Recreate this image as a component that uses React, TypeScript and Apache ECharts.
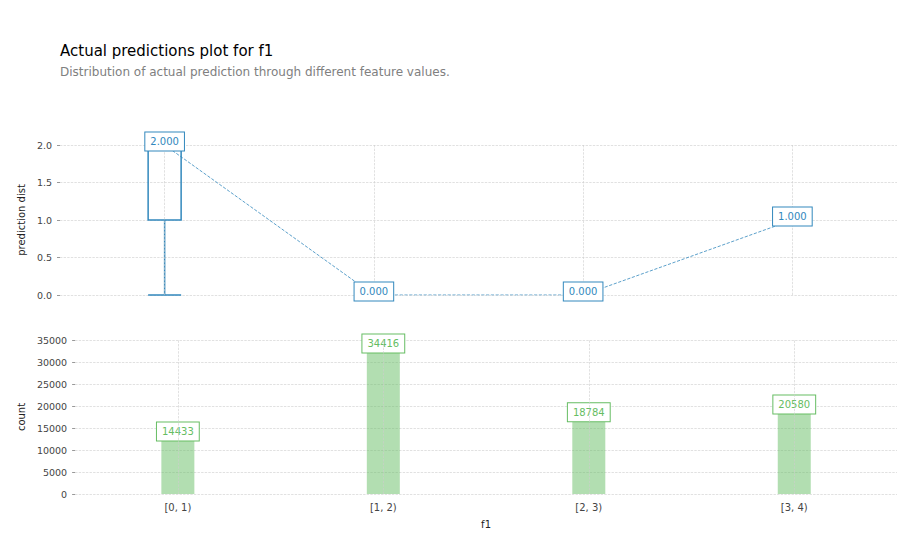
import React, { useEffect, useRef } from 'react';
import * as echarts from 'echarts';

const categories = ['[0, 1)', '[1, 2)', '[2, 3)', '[3, 4)'];
const meanPred = [2.0, 0.0, 0.0, 1.0];
// [min, Q1, median, Q3, max]; only the first bin has spread
const boxData: any[] = [[0, 1, 2, 2, 2], '-', '-', '-'];
const counts = [14433, 34416, 18784, 20580];

const BLUE = '#3288bd';
const GREEN = '#66bd63';

const App: React.FC = () => {
	const ref = useRef<HTMLDivElement | null>(null);

	useEffect(() => {
		if (!ref.current) return;
		const chart = echarts.init(ref.current, null, { renderer: 'svg' });
		const gridLine = { color: '#cccccc', type: 'dashed', width: 0.6 };
		const vLines = {
			silent: true,
			symbol: 'none',
			label: { show: false },
			lineStyle: gridLine,
			data: categories.map((c) => ({ xAxis: c })),
		};
		const xBase = {
			type: 'category',
			data: categories,
			axisLine: { show: false },
			axisTick: { show: false },
			splitLine: { show: false },
		};
		const yBase = {
			type: 'value',
			axisLine: { show: false },
			axisTick: { show: true, length: 3, lineStyle: { color: '#999' } },
			axisLabel: { color: '#444', fontSize: 9.5, fontFamily: 'DejaVu Sans', formatter: (v: number) => String(v) },
			splitLine: { show: true, lineStyle: gridLine },
			nameLocation: 'middle',
			nameTextStyle: { color: '#222', fontSize: 10, fontFamily: 'DejaVu Sans' },
		};
		const boxLabel = (color: string) => ({
			show: true,
			color,
			fontSize: 10,
			fontFamily: 'DejaVu Sans',
			backgroundColor: '#fff',
			borderColor: color,
			borderWidth: 1,
			padding: [4, 5],
		});
		const option: any = {
			animation: false,
			title: [
				{
					text: 'Actual predictions plot for f1',
					subtext: 'Distribution of actual prediction through different feature values.',
					left: 47,
					top: 30,
					textStyle: { fontSize: 15, fontWeight: 'normal', color: '#000', fontFamily: 'DejaVu Sans' },
					subtextStyle: { fontSize: 12, color: '#808080', fontFamily: 'DejaVu Sans' },
					itemGap: 8,
				},
			],
			grid: [
				{ left: 52, right: 6, top: 137, height: 150 },
				{ left: 52, right: 6, top: 332, height: 160 },
			],
			xAxis: [
				{ ...xBase, gridIndex: 0, axisLabel: { show: false } },
				{
					...xBase,
					gridIndex: 1,
					axisLabel: { color: '#444', fontSize: 10, fontFamily: 'DejaVu Sans', margin: 8 },
					name: 'f1',
					nameLocation: 'middle',
					nameGap: 25,
					nameTextStyle: { color: '#222', fontSize: 10, fontFamily: 'DejaVu Sans' },
				},
			],
			yAxis: [
				{ ...yBase, gridIndex: 0, min: 0, max: 2, interval: 0.5, name: 'prediction dist', nameGap: 29,
					axisLabel: { ...yBase.axisLabel, formatter: (v: number) => v.toFixed(1) } },
				{ ...yBase, gridIndex: 1, min: 0, max: 35000, interval: 5000, name: 'count', nameGap: 45 },
			],
			series: [
				{
					type: 'boxplot',
					xAxisIndex: 0,
					yAxisIndex: 0,
					data: boxData,
					boxWidth: [33, 33],
					itemStyle: { color: 'transparent', borderColor: BLUE, borderWidth: 1.5 },
					markLine: vLines,
					z: 2,
				},
				{
					type: 'line',
					xAxisIndex: 0,
					yAxisIndex: 0,
					data: meanPred,
					symbol: 'circle',
					symbolSize: 1,
					showSymbol: true,
					itemStyle: { color: BLUE },
					lineStyle: { color: BLUE, width: 0.8, type: 'dashed' },
					label: {
						...boxLabel(BLUE),
						position: 'bottom',
						distance: -13,
						formatter: (p: any) => p.value.toFixed(3),
					},
					z: 5,
				},
				{
					type: 'bar',
					xAxisIndex: 1,
					yAxisIndex: 1,
					data: counts,
					barWidth: 33,
					itemStyle: { color: 'rgba(102,189,99,0.5)' },
					markLine: vLines,
					label: { ...boxLabel(GREEN), position: 'top', distance: -10 },
				},
			],
		};
		chart.setOption(option);
		return () => chart.dispose();
	}, []);

	return <div ref={ref} style={{ width: '895px', height: '522px' }} />;
};

export default App;
